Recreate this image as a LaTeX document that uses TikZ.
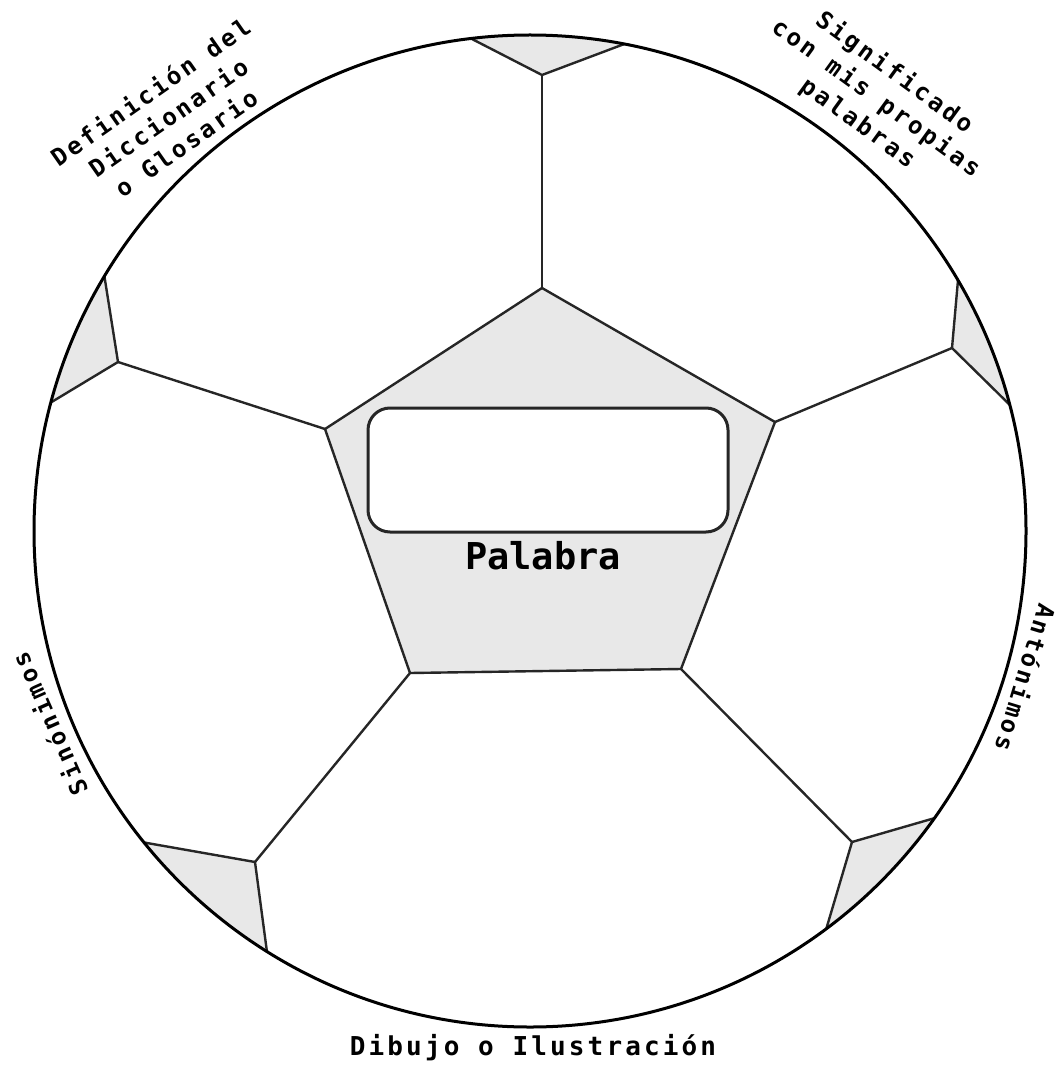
\documentclass[tikz,border=0pt]{standalone}
\usepackage{fontspec}
\usetikzlibrary{calc}
\newfontfamily\labfont[LetterSpace=12]{DejaVu Sans Mono}
\newfontfamily\wordfont{DejaVu Sans Mono}
\definecolor{patch}{gray}{0.91}
\definecolor{seamc}{gray}{0.15}
\tikzset{
  seam/.style={draw=seamc, line width=2.4pt, line join=round},
  patchfill/.style={fill=patch},
  ballrim/.style={draw=black, line width=3pt},
  lab/.style={font=\labfont\bfseries\fontsize{24}{31}\selectfont, align=center, inner sep=0pt},
  wordbox/.style={draw=black!85, line width=3pt, fill=white, rounded corners=22pt}
}
\begin{document}
\begin{tikzpicture}[x=1pt,y=-1pt]
\fill[white] (0,0) rectangle (1057,1067);
\useasboundingbox (0,0) rectangle (1057,1067);
\coordinate (C) at (530,531);
% pentagon
\coordinate (P1) at (542,288);
\coordinate (P2) at (775,422);
\coordinate (P3) at (681,669);
\coordinate (P4) at (410,673);
\coordinate (P5) at (325,429);
% triangle inner vertices
\coordinate (T1) at (542,75);
\coordinate (T2) at (952,348);
\coordinate (T3) at (852,842);
\coordinate (T4) at (255,862);
\coordinate (T5) at (118,362);
% triangle outer vertices (on rim)
\coordinate (T1a) at (470,38);  \coordinate (T1b) at (627,43);
\coordinate (T2a) at (958,280); \coordinate (T2b) at (1015,410);
\coordinate (T3a) at (928,820); \coordinate (T3b) at (828,923);
\coordinate (T4a) at (147,843); \coordinate (T4b) at (267,952);
\coordinate (T5a) at (105,280); \coordinate (T5b) at (50,403);
\fill[white] (C) circle[radius=496];
\begin{scope}
  \clip (C) circle[radius=496];
  \foreach \t in {1,...,5}{
    \fill[patchfill] (T\t) -- ($(T\t)!1.5!(T\t a)$) -- ($(C)!1.2!(T\t a)$) -- ($(C)!1.2!(T\t b)$) -- ($(T\t)!1.5!(T\t b)$) -- cycle;
    \draw[seam] ($(T\t)!1.5!(T\t a)$) -- (T\t) -- ($(T\t)!1.5!(T\t b)$);
  }
\end{scope}
\filldraw[seam, patchfill] (P1) -- (P2) -- (P3) -- (P4) -- (P5) -- cycle;
\draw[seam] (P1) -- (T1);
\draw[seam] (P2) -- (T2);
\draw[seam] (P3) -- (T3);
\draw[seam] (P4) -- (T4);
\draw[seam] (P5) -- (T5);
\draw[ballrim] (C) circle[radius=496];
\draw[wordbox] (368,408) rectangle (728,532);
\node[inner sep=0pt, font=\wordfont\bfseries\fontsize{37}{40}\selectfont] (palabra) at (543,556) {Palabra};
\node[lab, rotate=35] (defin) at (168,117) {Definición del\\Diccionario\\o Glosario};
\node[lab, rotate=-36] (signif) at (876,98) {Significado\\con mis propias\\palabras};
\node[lab, rotate=114] (sinon) at (49,724) {Sinónimos};
\node[lab, rotate=-107] (anton) at (1026,678) {Antónimos};
\node[lab, font=\labfont\bfseries\fontsize{26}{31}\selectfont] (dibujo) at (533,1048) {Dibujo o Ilustración};
\end{tikzpicture}
\end{document}
